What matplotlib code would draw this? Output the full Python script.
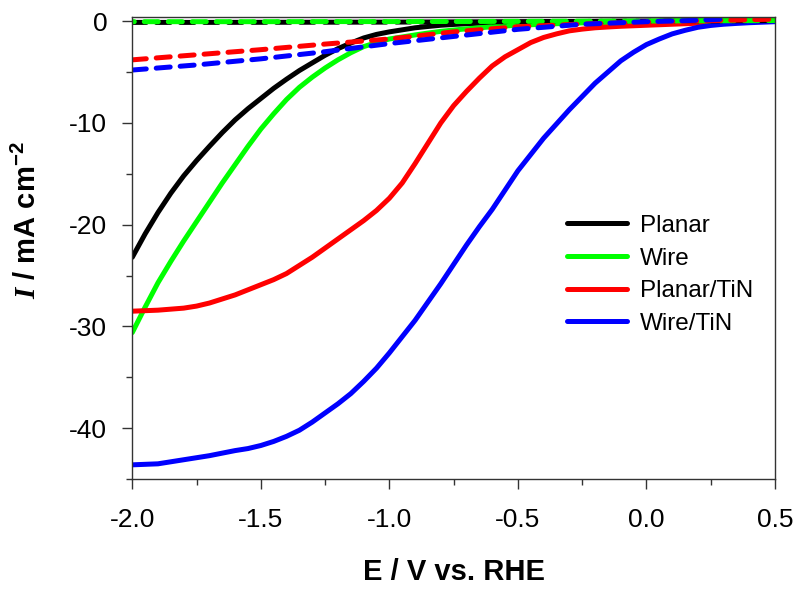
import matplotlib
matplotlib.use("Agg")
import matplotlib.pyplot as plt
from matplotlib.ticker import MultipleLocator

plt.rcParams['font.family'] = ['Liberation Sans', 'DejaVu Sans']
plt.rcParams['axes.unicode_minus'] = False
plt.rcParams['mathtext.fontset'] = 'custom'
plt.rcParams['mathtext.rm'] = 'Liberation Sans'
plt.rcParams['mathtext.bf'] = 'Liberation Sans:bold'
plt.rcParams['mathtext.bfit'] = 'Liberation Serif:italic:bold'

# potential (V vs RHE) for the solid LSV curves, 0.05 V steps
E_sweep = [-2.0, -1.95, -1.9, -1.85, -1.8, -1.75, -1.7, -1.65, -1.6, -1.55,
           -1.5, -1.45, -1.4, -1.35, -1.3, -1.25, -1.2, -1.15, -1.1, -1.05,
           -1.0, -0.95, -0.9, -0.85, -0.8, -0.75, -0.7, -0.65, -0.6, -0.55,
           -0.5, -0.45, -0.4, -0.35, -0.3, -0.25, -0.2, -0.15, -0.1, -0.05,
           0.0, 0.05, 0.1, 0.15, 0.2, 0.25, 0.3, 0.35, 0.4, 0.45, 0.5]

planar = [-23.2, -20.9, -18.8, -16.9, -15.2, -13.7, -12.3, -10.95, -9.7, -8.6,
          -7.6, -6.6, -5.7, -4.85, -4.1, -3.35, -2.7, -2.15, -1.65, -1.3,
          -1.05, -0.85, -0.65, -0.52, -0.4, -0.32, -0.25, -0.2, -0.15, -0.12,
          -0.1, -0.08, -0.06, -0.05, -0.04, -0.03, -0.02, -0.01, 0.0, 0.0,
          0.0, 0.01, 0.02, 0.03, 0.04, 0.05, 0.06, 0.07, 0.08, 0.09, 0.1]

wire = [-30.6, -28.1, -25.7, -23.6, -21.6, -19.7, -17.8, -15.9, -14.1, -12.3,
        -10.6, -9.1, -7.7, -6.5, -5.5, -4.6, -3.8, -3.1, -2.5, -2.1,
        -1.75, -1.55, -1.35, -1.17, -1.0, -0.87, -0.75, -0.65, -0.55, -0.47,
        -0.4, -0.35, -0.3, -0.25, -0.2, -0.17, -0.15, -0.12, -0.1, -0.07,
        -0.05, -0.02, 0.0, 0.02, 0.03, 0.05, 0.06, 0.07, 0.08, 0.09, 0.1]

planar_tin = [-28.5, -28.45, -28.4, -28.3, -28.2, -28.0, -27.7, -27.3, -26.9, -26.4,
              -25.9, -25.4, -24.8, -24.0, -23.2, -22.3, -21.4, -20.5, -19.6, -18.6,
              -17.4, -15.9, -14.0, -12.0, -10.0, -8.3, -6.9, -5.6, -4.4, -3.5,
              -2.8, -2.1, -1.6, -1.25, -0.95, -0.78, -0.65, -0.57, -0.5, -0.45,
              -0.4, -0.35, -0.3, -0.25, -0.2, -0.15, -0.1, -0.05, 0.0, 0.05, 0.1]

wire_tin = [-43.6, -43.55, -43.5, -43.3, -43.1, -42.9, -42.7, -42.45, -42.2, -42.0,
            -41.7, -41.3, -40.8, -40.2, -39.4, -38.5, -37.6, -36.6, -35.4, -34.1,
            -32.6, -31.0, -29.4, -27.6, -25.8, -23.9, -22.0, -20.2, -18.5, -16.6,
            -14.7, -13.1, -11.5, -10.1, -8.7, -7.4, -6.1, -5.0, -3.9, -3.05,
            -2.3, -1.75, -1.25, -0.9, -0.6, -0.42, -0.3, -0.22, -0.15, -0.1, -0.05]

# dark (dashed) curves
E_dark = [-2.0, -1.75, -1.5, -1.25, -1.0, -0.75, -0.5, -0.25, 0.0, 0.25, 0.5]
planar_dark = [-0.12, -0.12, -0.11, -0.1, -0.09, -0.07, -0.05, -0.03, 0.0, 0.03, 0.06]
wire_dark = [-0.05, -0.05, -0.05, -0.04, -0.04, -0.03, -0.02, 0.0, 0.02, 0.04, 0.06]
planar_tin_dark = [-3.8, -3.3, -2.8, -2.25, -1.75, -1.05, -0.55, -0.28, -0.1, 0.05, 0.2]

E_dark_wt = [-2.0, -1.75, -1.5, -1.25, -1.0, -0.75, -0.5, -0.25, 0.0, 0.15, 0.3]
wire_tin_dark = [-4.8, -4.3, -3.7, -3.0, -2.2, -1.5, -0.8, -0.3, -0.05, 0.05, 0.2]

labels = ['Planar', 'Wire', 'Planar/TiN', 'Wire/TiN']
colors = ['black', '#00ff00', '#ff0000', '#0000ff']

fig = plt.figure(figsize=(7.96, 5.90), dpi=100)
ax = fig.add_axes([0.1662, 0.188, 0.8074, 0.783])

lw = 3.6
for ys, c, lab in zip([planar, wire, planar_tin, wire_tin], colors, labels):
    ax.plot(E_sweep, ys, color=c, lw=lw, label=lab, solid_capstyle='round')

dash = (2.8, 2.0)
dash_sets = [(E_dark, planar_dark, (0, dash)),
             (E_dark, wire_dark, (2.4, dash)),
             (E_dark, planar_tin_dark, (0, dash)),
             (E_dark_wt, wire_tin_dark, (0, dash))]
for (xs, ys, ls), c in zip(dash_sets, colors):
    ax.plot(xs, ys, color=c, lw=lw, linestyle=ls, dash_capstyle='round')

ax.set_xlim(-2.0, 0.5)
ax.set_ylim(-45, 0.4)
ax.xaxis.set_major_locator(MultipleLocator(0.5))
ax.xaxis.set_minor_locator(MultipleLocator(0.25))
ax.yaxis.set_major_locator(MultipleLocator(10))
ax.yaxis.set_minor_locator(MultipleLocator(5))
ax.xaxis.set_major_formatter(plt.FuncFormatter(lambda v, p: '%.1f' % v))

ax.tick_params(which='major', direction='out', length=7, width=1, labelsize=19, color='#333333')
ax.tick_params(which='minor', direction='out', length=4, width=1, color='#333333')
ax.tick_params(axis='x', which='major', pad=14)
ax.tick_params(axis='y', which='major', pad=11)
for s in ax.spines.values():
    s.set_linewidth(1)
    s.set_color('#333333')

ax.set_xlabel('E / V vs. RHE', fontsize=21, fontweight='bold')
ax.set_ylabel(r'$\mathbfit{I}$ / mA cm$^{\mathbf{-2}}$', fontsize=21, fontweight='bold')
ax.xaxis.set_label_coords(0.5, -0.17)
ax.yaxis.set_label_coords(-0.14, 0.56)

ax.legend(loc='upper left', bbox_to_anchor=(0.676, 0.572), frameon=False,
          fontsize=17.5, handlelength=2.47, handletextpad=0.54, labelspacing=0.44,
          borderpad=0, borderaxespad=0)

fig.savefig('out.png', dpi=100)
